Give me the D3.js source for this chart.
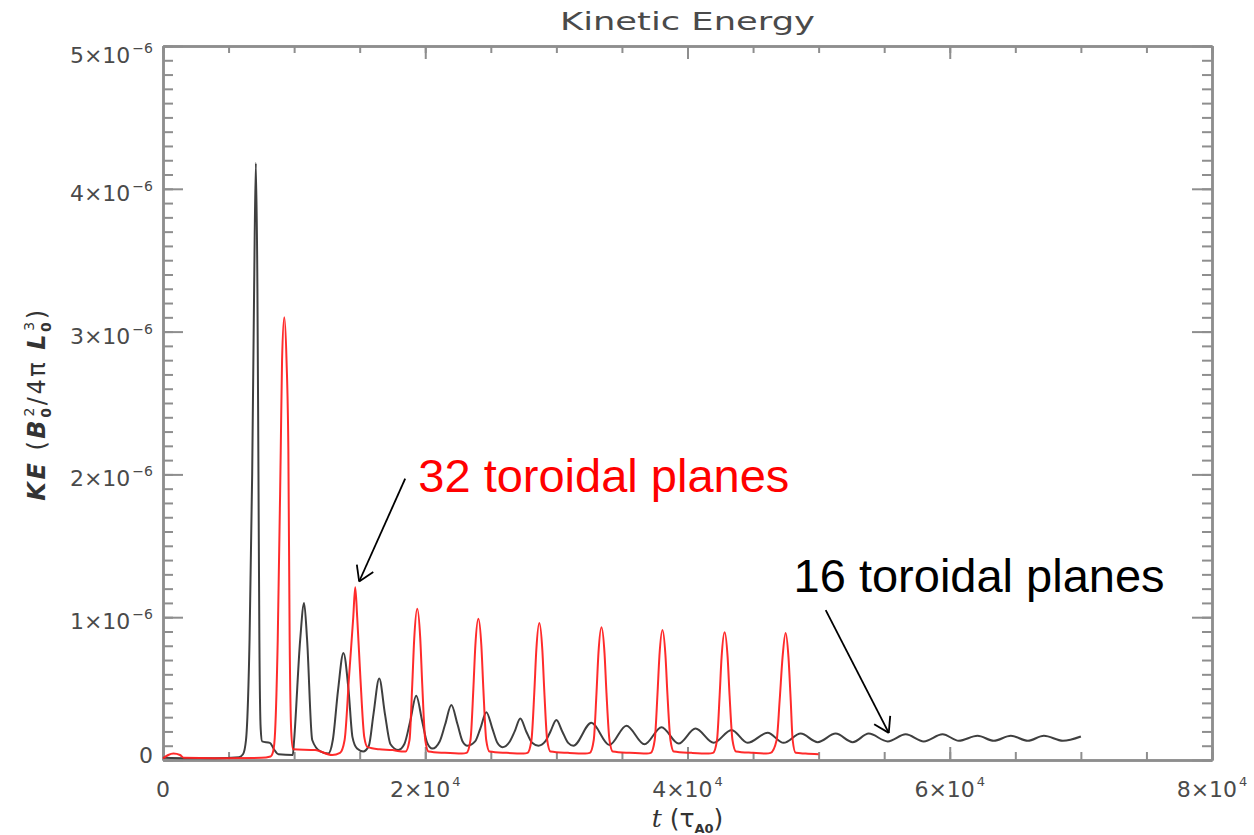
<!DOCTYPE html>
<html><head><meta charset="utf-8">
<script src="https://cdn.jsdelivr.net/npm/d3@7"></script>
<style>body{margin:0;background:#fff} svg{display:block}</style>
</head><body><svg id="c" width="1254" height="835"></svg>
<script>
// ---------- DATA (t in tau_A0, KE in units of 1e-6) ----------
const xMajor = [0, 20000, 40000, 60000, 80000];
const xTickMant = ["0", "2×10", "4×10", "6×10", "8×10"];
const xTickExp = ["", "4", "4", "4", "4"];
const yMajor = [0, 1, 2, 3, 4, 5];
const yTickMant = ["0", "1×10", "2×10", "3×10", "4×10", "5×10"];
const yTickExp = ["", "−6", "−6", "−6", "−6", "−6"];

const black16 = [
  [0,0.015],[2000,0.012],[4000,0.012],[5800,0.02],[6100,0.04],[6330,0.14],[6600,0.84],[6800,2.0],[6950,3.3],[7080,4.18],[7200,3.3],[7280,2.0],[7350,0.84],[7450,0.22],[7560,0.13],[8150,0.12],[8500,0.07],[8800,0.04],[9900,0.035],
  [10000,0.14],[10460,0.84],[10760,1.10],[10990,0.84],[11380,0.14],[12000,0.06],[12600,0.045],
  [12950,0.14],[13350,0.49],[13760,0.75],[14150,0.49],[14450,0.16],[14800,0.08],[15270,0.06],
  [15700,0.1],[16050,0.32],[16490,0.57],[16930,0.32],[17350,0.11],[17940,0.07],
  [18400,0.11],[18850,0.27],[19310,0.45],[19770,0.27],[20150,0.12],[20540,0.08],
  [21100,0.13],[21520,0.25],[21990,0.385],[22460,0.25],[22850,0.13],[23210,0.10],
  [23800,0.13],[24200,0.22],[24660,0.335],[25120,0.22],[25500,0.12],[25880,0.09],
  [26450,0.13],[26820,0.2],[27250,0.29],[27700,0.2],[28150,0.12],[28630,0.10],
  [29150,0.13],[29550,0.2],[30000,0.28],[30450,0.2],[30900,0.12],[31300,0.10],
  [32670,0.26],[34050,0.105],[35340,0.24],[36720,0.11],[38020,0.23],[39320,0.115],[40610,0.22],[41990,0.12],
  [43360,0.21],[44580,0.12],[46110,0.19],[47330,0.12],[48630,0.185],[49930,0.125],[51300,0.185],[52600,0.125],
  [53820,0.185],[55270,0.13],[56640,0.18],[58020,0.13],[59450,0.18],[60690,0.135],[62120,0.17],[63360,0.135],
  [64660,0.17],[65960,0.135],[67180,0.17],[68630,0.135],[70000,0.165]
];

const red32 = [
  [0,0.01],[400,0.035],[800,0.045],[1300,0.035],[1600,0.015],[4000,0.012],[7500,0.015],[8200,0.025],
  [8400,0.06],[8550,0.2],[8750,0.84],[8980,2.17],[9080,2.8],[9250,3.1],[9420,2.8],[9560,2.17],[9660,0.84],[9780,0.2],[9920,0.075],[11600,0.07],[12900,0.035],[13500,0.05],
  [13850,0.14],[14200,0.6],[14510,1.0],[14660,1.21],[14810,1.0],[15040,0.6],[15350,0.16],[15600,0.09],[16500,0.075],[17500,0.07],[18200,0.06],
  [18500,0.06],[18800,0.14],[19010,0.53],[19160,0.85],[19390,1.06],[19620,0.85],[19770,0.53],[20000,0.14],[20250,0.06],[21500,0.05],[22800,0.045],
  [23150,0.05],[23450,0.14],[23670,0.5],[23820,0.8],[24050,0.99],[24280,0.8],[24430,0.5],[24650,0.14],[24900,0.06],[26200,0.05],[27500,0.045],
  [27800,0.05],[28100,0.14],[28320,0.48],[28470,0.77],[28700,0.96],[28930,0.77],[29080,0.48],[29300,0.14],[29550,0.06],[30900,0.05],[32200,0.045],
  [32550,0.05],[32850,0.14],[33060,0.47],[33210,0.75],[33440,0.93],[33670,0.75],[33820,0.47],[34050,0.14],[34300,0.06],[35600,0.05],[36900,0.045],
  [37200,0.05],[37500,0.14],[37710,0.46],[37860,0.73],[38090,0.91],[38320,0.73],[38470,0.46],[38700,0.14],[38950,0.06],[40300,0.05],[41600,0.045],
  [41950,0.05],[42250,0.14],[42450,0.45],[42600,0.72],[42830,0.895],[43060,0.72],[43210,0.45],[43430,0.14],[43700,0.06],[45000,0.05],[46000,0.045],
  [46340,0.05],[46800,0.14],[47030,0.42],[47250,0.72],[47480,0.89],[47700,0.72],[47870,0.42],[48020,0.14],[48250,0.05],[49000,0.045],[50000,0.04]
];

const titleText = "Kinetic Energy";
const annotations = [
  {text: "32 toroidal planes", color: "#ff0000", textAt: [19470, 1.874], from: [18470, 1.97], to: [14960, 1.25]},
  {text: "16 toroidal planes", color: "#000000", textAt: [48090, 1.175], from: [50540, 1.05], to: [55350, 0.19]}
];

// ---------- CHART ----------
const svg = d3.select("#c");
const L = 163, R = 1212, T = 46, B = 760;
const x = d3.scaleLinear().domain([0, 80000]).range([L, R]);
const y = d3.scaleLinear().domain([0, 5]).range([B, T]);
const axisColor = "#8e8e8e";
const labelColor = "#4a4a4a";

function styleAxis(g) {
  g.selectAll("path.domain").attr("stroke", axisColor).attr("stroke-width", 2.5);
  g.selectAll(".tick line").attr("stroke", axisColor).attr("stroke-width", 2);
  g.selectAll(".tick text").remove();
}
const xMinor = x.ticks(16), yMinor = y.ticks(50);
// bottom
svg.append("g").attr("transform", `translate(0,${B})`)
  .call(d3.axisBottom(x).tickValues(xMinor).tickSize(-8).tickSizeOuter(0).tickFormat("")).call(styleAxis);
svg.append("g").attr("transform", `translate(0,${B})`)
  .call(d3.axisBottom(x).tickValues(xMajor).tickSize(-13).tickSizeOuter(0).tickFormat("")).call(styleAxis);
// top
svg.append("g").attr("transform", `translate(0,${T})`)
  .call(d3.axisTop(x).tickValues(xMinor).tickSize(-7).tickSizeOuter(0).tickFormat("")).call(styleAxis);
svg.append("g").attr("transform", `translate(0,${T})`)
  .call(d3.axisTop(x).tickValues(xMajor).tickSize(-13).tickSizeOuter(0).tickFormat("")).call(styleAxis);
// left
svg.append("g").attr("transform", `translate(${L},0)`)
  .call(d3.axisLeft(y).tickValues(yMinor).tickSize(-10).tickSizeOuter(0).tickFormat("")).call(styleAxis);
svg.append("g").attr("transform", `translate(${L},0)`)
  .call(d3.axisLeft(y).tickValues(yMajor).tickSize(-20).tickSizeOuter(0).tickFormat("")).call(styleAxis);
// right
svg.append("g").attr("transform", `translate(${R},0)`)
  .call(d3.axisRight(y).tickValues(yMinor).tickSize(-10).tickSizeOuter(0).tickFormat("")).call(styleAxis);
svg.append("g").attr("transform", `translate(${R},0)`)
  .call(d3.axisRight(y).tickValues(yMajor).tickSize(-20).tickSizeOuter(0).tickFormat("")).call(styleAxis);

// y tick labels
svg.append("g").selectAll("text").data(yMajor).join("text")
  .attr("x", 153)
  .attr("y", d => y(d) + (d === 0 ? 3 : d === 5 ? 17 : 12))
  .attr("text-anchor", "end")
  .attr("font-family", "DejaVu Sans").attr("font-size", 22).attr("fill", labelColor)
  .each(function(d, i) {
    const t = d3.select(this);
    t.append("tspan").text(yTickMant[i]);
    if (yTickExp[i]) t.append("tspan").attr("font-size", 14).attr("dy", -10).attr("dx", 2).text(yTickExp[i]);
  });
// x tick labels
svg.append("g").selectAll("text").data(xMajor).join("text")
  .attr("x", d => x(d))
  .attr("y", 797)
  .attr("text-anchor", "middle")
  .attr("font-family", "DejaVu Sans").attr("font-size", 22).attr("fill", labelColor)
  .each(function(d, i) {
    const t = d3.select(this);
    t.append("tspan").text(xTickMant[i]);
    if (xTickExp[i]) t.append("tspan").attr("font-size", 13).attr("dy", -11).attr("dx", 2).text(xTickExp[i]);
  });

// title
svg.append("text").attr("x", (L + R) / 2).attr("y", 30).attr("text-anchor", "middle")
  .attr("font-family", "DejaVu Sans").attr("font-size", 25).attr("fill", labelColor)
  .attr("textLength", 255).attr("lengthAdjust", "spacingAndGlyphs").text(titleText);

// x title
const xt = svg.append("text").attr("x", (L + R) / 2).attr("y", 827).attr("text-anchor", "middle")
  .attr("font-family", "DejaVu Sans").attr("font-size", 25).attr("fill", "#333");
xt.append("tspan").attr("font-family", "DejaVu Serif").attr("font-style", "italic").text("t");
xt.append("tspan").text(" (τ");
xt.append("tspan").attr("font-size", 13).attr("font-weight", "bold").attr("dy", 6).text("A0");
xt.append("tspan").attr("dy", -6).text(")");

// y title
const yt = svg.append("text").attr("transform", "translate(45,404) rotate(-90)").attr("text-anchor", "middle")
  .attr("font-family", "DejaVu Sans").attr("font-size", 24).attr("fill", "#333")
  .attr("letter-spacing", 2.5);
yt.append("tspan").attr("font-style", "italic").attr("font-weight", "bold").text("KE");
yt.append("tspan").text(" (");
yt.append("tspan").attr("font-style", "italic").attr("font-weight", "bold").text("B");
yt.append("tspan").attr("font-size", 14).attr("dy", 6).attr("font-weight", "bold").text("0");
yt.append("tspan").attr("font-size", 14).attr("dy", -17).attr("dx", -11).text("2");
yt.append("tspan").attr("dy", 11).text("/4π ");
yt.append("tspan").attr("font-style", "italic").attr("font-weight", "bold").text("L");
yt.append("tspan").attr("font-size", 14).attr("dy", 6).attr("font-weight", "bold").text("0");
yt.append("tspan").attr("font-size", 14).attr("dy", -17).attr("dx", -11).text("3");
yt.append("tspan").attr("dy", 11).text(")");

// curves
const line = d3.line().x(d => x(d[0])).y(d => y(d[1])).curve(d3.curveMonotoneX);
svg.append("path").datum(black16).attr("d", line).attr("fill", "none")
  .attr("stroke", "#2a2a2a").attr("stroke-width", 2).attr("stroke-opacity", 0.9).attr("stroke-linejoin", "round");
svg.append("path").datum(red32).attr("d", line).attr("fill", "none")
  .attr("stroke", "#ff2020").attr("stroke-width", 2).attr("stroke-opacity", 0.95).attr("stroke-linejoin", "round");

// annotations
const ag = svg.append("g");
annotations.forEach(a => {
  ag.append("text").attr("x", x(a.textAt[0])).attr("y", y(a.textAt[1]))
    .attr("font-family", "Liberation Sans, Arial, sans-serif").attr("font-size", 47)
    .attr("fill", a.color).text(a.text);
  const x1 = x(a.from[0]), y1 = y(a.from[1]), x2 = x(a.to[0]), y2 = y(a.to[1]);
  ag.append("line").attr("x1", x1).attr("y1", y1).attr("x2", x2).attr("y2", y2)
    .attr("stroke", "#000").attr("stroke-width", 1.8);
  const ang = Math.atan2(y1 - y2, x1 - x2), hl = 17, ha = 32 * Math.PI / 180;
  [ang - ha, ang + ha].forEach(b => {
    ag.append("line").attr("x1", x2).attr("y1", y2)
      .attr("x2", x2 + hl * Math.cos(b)).attr("y2", y2 + hl * Math.sin(b))
      .attr("stroke", "#000").attr("stroke-width", 1.8);
  });
});
</script></body></html>
